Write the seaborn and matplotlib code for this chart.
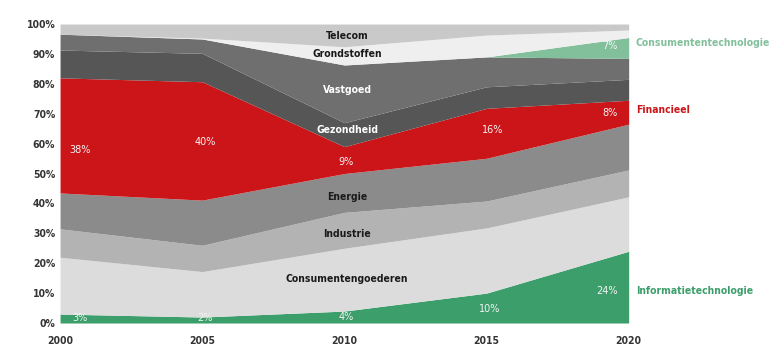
import numpy as np
import matplotlib
matplotlib.use("Agg")
import matplotlib.pyplot as plt
import seaborn as sns

years = [2000, 2005, 2010, 2015, 2020]

# sector shares in % (bottom to top of the stack)
informatietechnologie = [3, 2, 4, 10, 24]
consumentengoederen = [19, 15.2, 21, 21.8, 18.2]
industrie = [9.5, 8.8, 12, 9, 9]
energie = [12, 15.1, 13, 14.3, 15.3]
financieel = [38.5, 39.6, 9, 16.7, 8]
gezondheid = [9.3, 9.5, 8, 7.2, 7]
vastgoed = [5.3, 4.8, 19.3, 10, 7]
consumententechnologie = [0, 0, 0, 0, 7]
grondstoffen = [0, 0.3, 6.1, 7.3, 2.5]
telecom = [3.4, 4.7, 7.6, 3.7, 2]

sectors = ["Informatietechnologie", "Consumentengoederen", "Industrie", "Energie",
           "Financieel", "Gezondheid", "Vastgoed", "Consumententechnologie",
           "Grondstoffen", "Telecom"]
colors = ["#3c9e6b", "#dcdcdc", "#b3b3b3", "#8b8b8b", "#cc1519",
          "#565656", "#6f6f6f", "#82c09c", "#efefef", "#c9c9c9"]

# percentage labels inside the areas
pct_text = ["38%", "40%", "9%", "16%", "8%", "7%", "3%", "2%", "4%", "10%", "24%"]
pct_x = [2000.7, 2005.1, 2010.05, 2015.2, 2019.6, 2019.6, 2000.7, 2005.1, 2010.05, 2015.1, 2019.6]
pct_y = [57.9, 60.5, 53.8, 64.5, 70.2, 92.6, 1.6, 1.6, 2.0, 4.7, 10.7]

sns.set_theme(style="white")
plt.rcParams["font.family"] = ["DejaVu Sans"]

fig = plt.figure(figsize=(7.8, 3.64), dpi=100)
ax = fig.add_axes([0.077, 0.1126, 0.729, 0.8214])

data = np.vstack([informatietechnologie, consumentengoederen, industrie, energie,
                  financieel, gezondheid, vastgoed, consumententechnologie,
                  grondstoffen, telecom])
ax.stackplot(years, data, colors=colors, labels=sectors, linewidth=0)

ax.set_xlim(2000, 2020)
ax.set_ylim(0, 100)
ax.set_xticks(years)
ax.set_yticks(range(0, 101, 10))
ax.set_yticklabels([f"{v}%" for v in range(0, 101, 10)])
ax.tick_params(axis="both", length=0, labelsize=7.5, colors="#333333")
ax.tick_params(axis="x", pad=9)
for lab in ax.get_xticklabels() + ax.get_yticklabels():
    lab.set_fontweight("bold")
    lab.set_fontstretch("condensed")
for s in ax.spines.values():
    s.set_visible(False)

# sector names in the chart
inner = [("Telecom", 96, "#1a1a1a"), ("Grondstoffen", 90, "#1a1a1a"),
         ("Vastgoed", 78, "white"), ("Gezondheid", 64.5, "white"),
         ("Energie", 42, "#1a1a1a"), ("Industrie", 29.8, "#1a1a1a"),
         ("Consumentengoederen", 14.7, "#1a1a1a")]
for name, y, c in inner:
    ax.text(2010.1, y, name, ha="center", va="center", fontsize=7.5,
            fontweight="bold", fontstretch="condensed", color=c)

for t, x, y in zip(pct_text, pct_x, pct_y):
    ha = "right" if x > 2019 else "center"
    ax.text(x, y, t, ha=ha, va="center", fontsize=7, color="#f4f4f4")

# labels on the right
right = [("Consumententechnologie", 93.6, "#82c09c"),
         ("Financieel", 71.2, "#cc1519"),
         ("Informatietechnologie", 10.7, "#3c9e6b")]
for name, y, c in right:
    ax.text(2020.25, y, name, ha="left", va="center", fontsize=7.5,
            fontweight="bold", fontstretch="condensed", color=c, clip_on=False)

fig.savefig("out.png", dpi=100, facecolor="white")
